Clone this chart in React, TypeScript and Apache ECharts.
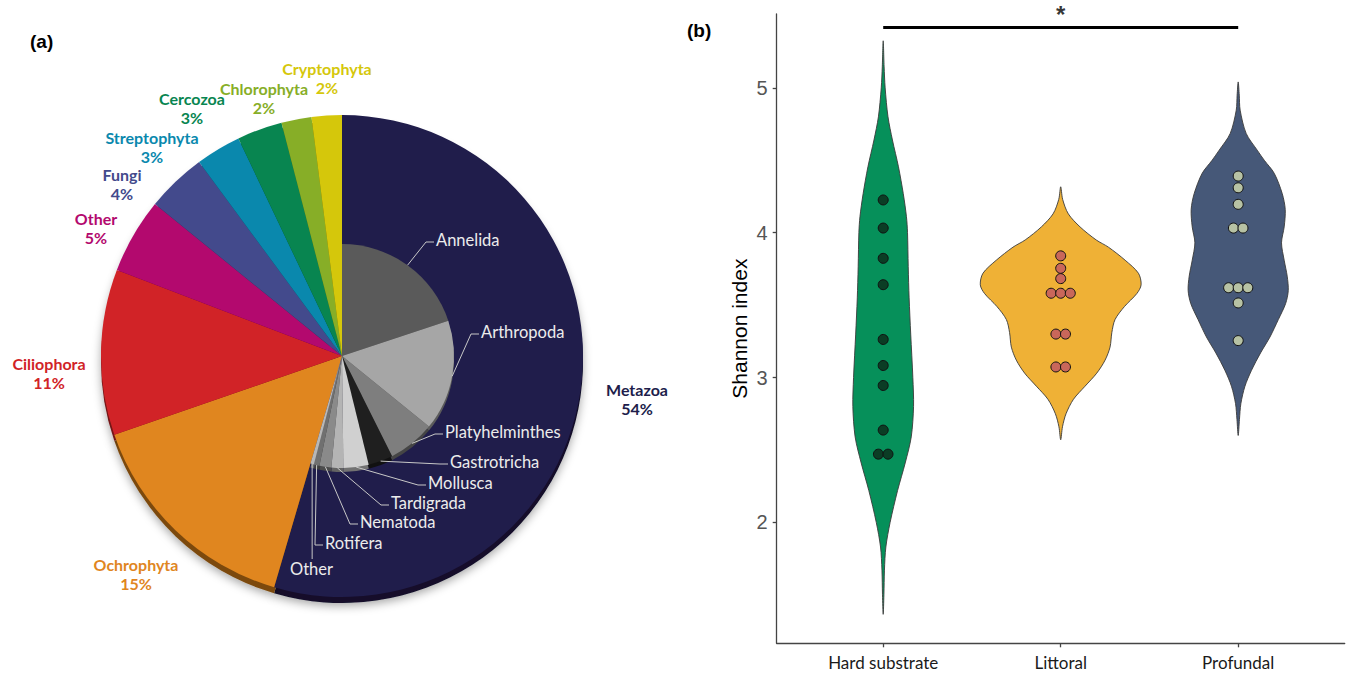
import React, { useEffect, useRef } from "react";
import * as echarts from "echarts";

// ---------- Panel (a): composition pie ----------
const pieNames = ["Metazoa", "Ochrophyta", "Ciliophora", "Other", "Fungi", "Streptophyta", "Cercozoa", "Chlorophyta", "Cryptophyta"];
const pieValues = [54, 15, 11, 5, 4, 3, 3, 2, 2];
const pieColors = ["#201d4b", "#e0861f", "#d12327", "#b3096e", "#434a8c", "#0a88ad", "#088550", "#87ae27", "#d5c70b"];

const subNames = ["Annelida", "Arthropoda", "Platyhelminthes", "Gastrotricha", "Mollusca", "Tardigrada", "Nematoda", "Rotifera", "Other"];
const subValues = [19.7, 15.8, 6.7, 3.5, 3.6, 1.7, 1.7, 0.8, 0.5];
const subColors = ["#5a5a5a", "#a6a6a6", "#7e7e7e", "#1f1f1f", "#d0d0d0", "#b4b4b4", "#8a8a8a", "#707070", "#b8b8b8"];

// ---------- Panel (b): Shannon index violins ----------
const groups = ["Hard substrate", "Littoral", "Profundal"];
const yTicks = [2, 3, 4, 5];
const yMin = 1.165;
const yMax = 5.51;
const sigLevel = 5.417;

// [Shannon index, half width in x-units]
const hardViolin = [
  [5.325, 0], [5.15, 0.005], [5.0, 0.011], [4.8, 0.027], [4.64, 0.052], [4.455, 0.086], [4.27, 0.113],
  [4.11, 0.131], [4.0, 0.137], [3.765, 0.141], [3.55, 0.146], [3.3, 0.155], [3.0, 0.167], [2.8, 0.171],
  [2.59, 0.158], [2.41, 0.124], [2.22, 0.081], [2.0, 0.039], [1.83, 0.015], [1.67, 0.007], [1.5, 0.004], [1.365, 0],
];
const littoralViolin = [
  [4.317, 0], [4.23, 0.011], [4.13, 0.043], [4.04, 0.109], [3.95, 0.2], [3.9, 0.269], [3.81, 0.363],
  [3.72, 0.438], [3.64, 0.453], [3.58, 0.429], [3.49, 0.359], [3.4, 0.306], [3.31, 0.288], [3.21, 0.278],
  [3.12, 0.25], [3.03, 0.203], [2.94, 0.137], [2.85, 0.072], [2.75, 0.03], [2.66, 0.01], [2.57, 0],
];
const profundalViolin = [
  [5.041, 0], [4.95, 0.006], [4.846, 0.011], [4.685, 0.045], [4.57, 0.107], [4.5, 0.147], [4.41, 0.203],
  [4.27, 0.248], [4.16, 0.265], [4.04, 0.259], [3.93, 0.244], [3.81, 0.259], [3.7, 0.276], [3.6, 0.282],
  [3.51, 0.267], [3.4, 0.226], [3.28, 0.179], [3.17, 0.126], [3.05, 0.075], [2.94, 0.038], [2.82, 0.015],
  [2.71, 0.007], [2.6, 0],
];

// [Shannon index, stack slot]
const hardPoints = [
  [4.226, 0], [4.032, 0], [3.823, 0], [3.641, 0], [3.263, 0], [3.083, 0], [2.945, 0], [2.637, 0], [2.471, -0.5], [2.471, 0.5],
];
const littoralPoints = [
  [3.84, 0], [3.754, 0], [3.683, 0], [3.582, -1], [3.582, 0], [3.582, 1], [3.3, -0.5], [3.3, 0.5], [3.073, -0.5], [3.073, 0.5],
];
const profundalPoints = [
  [4.391, 0], [4.31, 0], [4.196, 0], [4.032, -0.5], [4.032, 0.5], [3.62, -1], [3.62, 0], [3.62, 1], [3.515, 0], [3.255, 0],
];

const violinColors = ["#06905a", "#efb136", "#465878"];
const dotColors = ["#0b3d25", "#c9675a", "#b7c2a4"];

// ---------- layout / style constants ----------
const PIE_CENTER = [342, 356];
const PIE_R = 241;
const SUB_R = 112;
const DOT_STEP = 0.054;
const outerLabelPos = [[637, 399], [136, 574], [49, 373], [96, 228], [122, 184], [152, 147], [192, 108], [264, 98], [327, 78]];
const innerLabelPos = [[436, 240], [481, 332], [445, 432], [450, 462], [428, 483], [391, 503], [360, 522], [325, 543], [290, 569]];

function darken(hex: string, f: number) {
  const n = parseInt(hex.slice(1), 16);
  const r = Math.round(((n >> 16) & 255) * f);
  const g = Math.round(((n >> 8) & 255) * f);
  const b = Math.round((n & 255) * f);
  return `rgb(${r},${g},${b})`;
}

export default function App() {
  const ref = useRef<HTMLDivElement>(null);
  useEffect(() => {
    document.body.style.margin = "0";
    const chart = echarts.init(ref.current!, null, { renderer: "svg" });
    const total = pieValues.reduce((a, b) => a + b, 0);
    const subSum = subValues.reduce((a, b) => a + b, 0);
    const filler = {
      name: "",
      value: total - subSum,
      itemStyle: { color: "rgba(0,0,0,0)" },
      label: { show: false },
      labelLine: { show: false },
    };

    const violins = [hardViolin, littoralViolin, profundalViolin];
    const points = [hardPoints, littoralPoints, profundalPoints];

    const violinSeries = violins.map((prof, gi) => ({
      type: "custom",
      coordinateSystem: "cartesian2d",
      xAxisIndex: 0,
      yAxisIndex: 0,
      silent: true,
      clip: false,
      z: 2,
      data: prof.map(([v, w]) => [gi + 1, v, w]),
      encode: { x: 0, y: 1 },
      renderItem: (params: any, api: any) => {
        if (params.dataIndex !== 0) return null;
        const right = prof.map(([v, w]) => api.coord([gi + 1 + w, v]));
        const left = prof
          .slice(1, prof.length - 1)
          .reverse()
          .map(([v, w]) => api.coord([gi + 1 - w, v]));
        return {
          type: "polygon",
          shape: { points: right.concat(left), smooth: 0.3 },
          style: { fill: violinColors[gi], stroke: "#3a3a3a", lineWidth: 0.9 },
        };
      },
    }));

    const dotSeries = points.map((pts, gi) => ({
      type: "scatter",
      xAxisIndex: 0,
      yAxisIndex: 0,
      silent: true,
      z: 5,
      symbol: "circle",
      symbolSize: 10,
      itemStyle: { color: dotColors[gi], borderColor: "#111", borderWidth: 1, opacity: 1 },
      data: pts.map(([v, s]) => [gi + 1 + s * DOT_STEP, v]),
    }));

    // leader lines for the Metazoa breakdown, starting at each slice's mid-angle on its rim
    const leaderSeries = {
      type: "custom",
      coordinateSystem: "none",
      silent: true,
      z: 4,
      data: subValues.map((v, i) => [i, v]),
      renderItem: (params: any) => {
        const i = params.dataIndex;
        let cum = 0;
        for (let k = 0; k < i; k++) cum += subValues[k];
        const a = (2 * Math.PI * (cum + subValues[i] / 2)) / total;
        const s = [PIE_CENTER[0] + SUB_R * Math.sin(a), PIE_CENTER[1] - SUB_R * Math.cos(a)];
        const pos = innerLabelPos[i];
        let pts: number[][];
        if (s[0] > pos[0] && s[0] < pos[0] + 32) {
          pts = [s, [s[0], pos[1] - 10]];
        } else {
          const ex = pos[0] - 2;
          const ey = pos[1] + 2;
          pts = [s, [ex - 8, ey], [ex, ey]];
        }
        return {
          type: "polyline",
          shape: { points: pts },
          style: { stroke: "#c8c8c8", lineWidth: 1, fill: null },
        };
      },
    };

    const option: any = {
      animation: false,
      tooltip: { show: false },
      graphic: [
        { type: "text", left: 30, top: 32, style: { text: "(a)", font: "bold 19px 'Liberation Sans', Arial", fill: "#000" } },
        { type: "text", left: 687, top: 21, style: { text: "(b)", font: "bold 19px 'Liberation Sans', Arial", fill: "#000" } },
      ],
      grid: {
        left: 776.7,
        right: 1.3,
        top: 14,
        bottom: 34.7,
        containLabel: false,
        outerBoundsMode: "none",
      },
      xAxis: {
        type: "value",
        min: 0.4,
        max: 3.6,
        splitLine: { show: false },
        axisLine: { show: true, onZero: false, lineStyle: { color: "#444", width: 1.3 } },
        axisTick: { show: true, customValues: [1, 2, 3], length: 4, lineStyle: { color: "#444", width: 1.3 } },
        axisLabel: {
          customValues: [1, 2, 3],
          formatter: (v: number) => groups[Math.round(v) - 1] || "",
          margin: 11,
          fontFamily: "Lato",
          fontSize: 17,
          color: "#1a1a1a",
        },
      },
      yAxis: {
        type: "value",
        min: yMin,
        max: yMax,
        name: "Shannon index",
        nameLocation: "middle",
        nameRotate: 90,
        nameGap: 27,
        nameTextStyle: { fontFamily: "'Liberation Sans', Arial", fontSize: 21, color: "#000" },
        splitLine: { show: false },
        axisLine: { show: true, onZero: false, lineStyle: { color: "#444", width: 1.3 } },
        axisTick: { show: true, customValues: yTicks, length: 4, lineStyle: { color: "#444", width: 1.3 } },
        axisLabel: {
          customValues: yTicks,
          margin: 9,
          fontFamily: "'Liberation Sans', Arial",
          fontSize: 20,
          color: "#555",
        },
      },
      series: [
        // 3D rim of the main pie
        {
          type: "pie",
          center: [PIE_CENTER[0], PIE_CENTER[1] + 6],
          radius: PIE_R,
          startAngle: 90,
          silent: true,
          label: { show: false },
          labelLine: { show: false },
          itemStyle: { shadowBlur: 10, shadowColor: "rgba(0,0,0,0.35)", shadowOffsetY: 3 },
          data: pieValues.map((v, i) => ({ name: pieNames[i], value: v, itemStyle: { color: darken(pieColors[i], 0.55) } })),
        },
        // main pie
        {
          type: "pie",
          center: PIE_CENTER,
          radius: PIE_R,
          startAngle: 90,
          silent: true,
          avoidLabelOverlap: false,
          label: {
            show: true,
            position: "outside",
            formatter: "{b}\n{c}%",
            fontFamily: "Lato",
            fontWeight: "bold",
            fontSize: 16,
            lineHeight: 19,
            align: "center",
          },
          labelLine: { show: false },
          labelLayout: (p: any) => {
            const pos = outerLabelPos[p.dataIndex];
            return pos ? { x: pos[0], y: pos[1], align: "center", verticalAlign: "middle" } : {};
          },
          data: pieValues.map((v, i) => ({
            name: pieNames[i],
            value: v,
            itemStyle: { color: pieColors[i] },
            label: { color: pieColors[i] },
          })),
        },
        // rim of the Metazoa breakdown
        {
          type: "pie",
          center: [PIE_CENTER[0], PIE_CENTER[1] + 4],
          radius: SUB_R,
          startAngle: 90,
          silent: true,
          label: { show: false },
          labelLine: { show: false },
          data: subValues
            .map((v, i) => ({ name: subNames[i], value: v, itemStyle: { color: darken(subColors[i], 0.55) } }))
            .concat([filler as any]),
        },
        // Metazoa breakdown
        {
          type: "pie",
          center: PIE_CENTER,
          radius: SUB_R,
          startAngle: 90,
          silent: true,
          avoidLabelOverlap: false,
          label: {
            show: true,
            position: "outside",
            formatter: "{b}",
            fontFamily: "Lato",
            fontSize: 16.5,
            color: "#ececec",
          },
          labelLine: { show: false },
          labelLayout: (p: any) => {
            const pos = innerLabelPos[p.dataIndex];
            return pos ? { x: pos[0], y: pos[1], align: "left", verticalAlign: "middle" } : {};
          },
          data: subValues
            .map((v, i) => ({ name: subNames[i], value: v, itemStyle: { color: subColors[i] } }))
            .concat([filler as any]),
        },
        leaderSeries,
        ...violinSeries,
        ...dotSeries,
        // significance bar
        {
          type: "line",
          xAxisIndex: 0,
          yAxisIndex: 0,
          silent: true,
          clip: false,
          symbol: "none",
          z: 6,
          lineStyle: { color: "#000", width: 3 },
          data: [[1, sigLevel], [3, sigLevel]],
        },
        {
          type: "scatter",
          xAxisIndex: 0,
          yAxisIndex: 0,
          silent: true,
          clip: false,
          z: 6,
          symbolSize: 2,
          itemStyle: { color: "#000" },
          label: {
            show: true,
            position: "top",
            distance: 2,
            formatter: "*",
            fontFamily: "'Liberation Sans', Arial",
            fontWeight: "bold",
            fontSize: 24,
            lineHeight: 20,
            color: "#000",
          },
          data: [[2, sigLevel]],
        },
      ],
    };
    chart.setOption(option);
    return () => chart.dispose();
  }, []);
  return <div ref={ref} style={{ position: "absolute", left: 0, top: 0, width: 1346, height: 678 }} />;
}
